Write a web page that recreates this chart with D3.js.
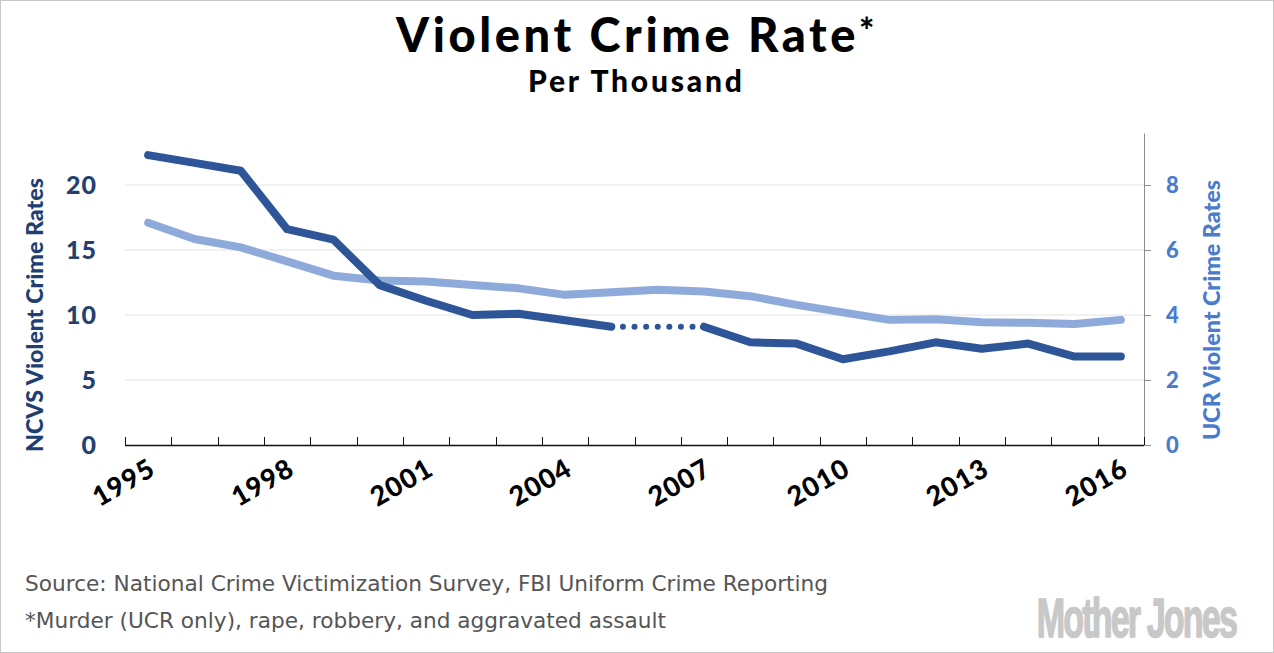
<!DOCTYPE html>
<html>
<head>
<meta charset="utf-8">
<script src="https://cdn.jsdelivr.net/npm/d3@7"></script>
<style>
  body { margin: 0; background: #fff; }
</style>
</head>
<body>
<div id="chart"></div>
<script>
var years = [1995, 1996, 1997, 1998, 1999, 2000, 2001, 2002, 2003, 2004, 2005,
             2006, 2007, 2008, 2009, 2010, 2011, 2012, 2013, 2014, 2015, 2016];
// NCVS, per thousand (no figure for 2006)
var ncvs = [22.3, 21.7, 21.1, 16.6, 15.8, 12.3, 11.1, 10.0, 10.1, 9.6, 9.1,
            null, 9.1, 7.9, 7.8, 6.6, 7.2, 7.9, 7.4, 7.8, 6.8, 6.8];
// UCR, per thousand
var ucr = [6.84, 6.34, 6.08, 5.65, 5.21, 5.06, 5.03, 4.92, 4.82, 4.62, 4.70,
           4.78, 4.72, 4.58, 4.31, 4.08, 3.85, 3.87, 3.78, 3.76, 3.72, 3.85];
var leftTicks = [0, 5, 10, 15, 20];
var rightTicks = [0, 2, 4, 6, 8];
var labelYears = [1995, 1998, 2001, 2004, 2007, 2010, 2013, 2016];

var W = 1274, H = 653;
var dark = "#2e5597", light = "#8eaadb";
var font = "Lato, 'Noto Sans', sans-serif";

var svg = d3.select("#chart").append("svg")
    .attr("width", W)
    .attr("height", H);

svg.append("rect")
    .attr("x", 0.5).attr("y", 0.5)
    .attr("width", W - 1).attr("height", H - 1)
    .attr("fill", "#fff")
    .attr("stroke", "#c8c8c8");

var x = d3.scaleBand().domain(years).range([125, 1144]);
var yL = d3.scaleLinear().domain([0, 24]).range([445, 133]);
var yR = d3.scaleLinear().domain([0, 9.6]).range([445, 133]);

// gridlines
svg.append("g").selectAll("line")
    .data(leftTicks.filter(function(d) { return d > 0; }))
    .enter().append("line")
    .attr("x1", 125).attr("x2", 1144)
    .attr("y1", function(d) { return yL(d); })
    .attr("y2", function(d) { return yL(d); })
    .attr("stroke", "#e2e2e2")
    .attr("stroke-width", 1);

// right axis
var rAxis = svg.append("g")
    .attr("transform", "translate(1144,0)")
    .call(d3.axisRight(yR).tickValues(rightTicks).tickSize(7).tickSizeOuter(0).tickFormat(""));
rAxis.select(".domain").attr("stroke", "#8c8c8c");
rAxis.selectAll(".tick line").attr("stroke", "#8c8c8c");

// bottom axis, ticks between categories pointing up
var edges = years.map(function(d) { return x(d); }).concat([x.range()[1]]);
var b = svg.append("g");
b.append("line")
    .attr("x1", 125).attr("x2", 1144)
    .attr("y1", 445.5).attr("y2", 445.5)
    .attr("stroke", "#111").attr("stroke-width", 1.5);
b.selectAll(".tk").data(edges).enter().append("line")
    .attr("x1", function(d) { return Math.round(d) + 0.5; })
    .attr("x2", function(d) { return Math.round(d) + 0.5; })
    .attr("y1", 437).attr("y2", 445)
    .attr("stroke", "#111");

// tick labels
svg.append("g").selectAll("text")
    .data(leftTicks).enter().append("text")
    .attr("x", 97)
    .attr("y", function(d) { return yL(d) + 9; })
    .attr("text-anchor", "end")
    .attr("font-family", font)
    .attr("font-weight", 900)
    .attr("font-size", 25)
    .attr("letter-spacing", 1)
    .attr("fill", "#23416f")
    .text(function(d) { return d; });

svg.append("g").selectAll("text")
    .data(rightTicks).enter().append("text")
    .attr("x", 1166)
    .attr("y", function(d) { return yR(d) + 8; })
    .attr("font-family", font)
    .attr("font-weight", 900)
    .attr("font-size", 22)
    .attr("fill", "#4a7bcc")
    .text(function(d) { return d; });

svg.append("g").selectAll("text")
    .data(labelYears).enter().append("text")
    .attr("transform", function(d) {
        return "translate(" + (x(d) + x.bandwidth() / 2 + 9) + ",474) rotate(-30)";
    })
    .attr("text-anchor", "end")
    .attr("font-family", font)
    .attr("font-weight", 900)
    .attr("font-size", 27)
    .attr("letter-spacing", 1)
    .attr("fill", "#000")
    .text(function(d) { return d; });

// axis titles
svg.append("text")
    .attr("transform", "translate(43,315) rotate(-90)")
    .attr("text-anchor", "middle")
    .attr("font-family", font)
    .attr("font-weight", 900)
    .attr("font-size", 22)
    .attr("textLength", 274)
    .attr("lengthAdjust", "spacingAndGlyphs")
    .attr("fill", "#1f3f73")
    .text("NCVS Violent Crime Rates");

svg.append("text")
    .attr("transform", "translate(1220,310) rotate(-90)")
    .attr("text-anchor", "middle")
    .attr("font-family", font)
    .attr("font-weight", 900)
    .attr("font-size", 22)
    .attr("textLength", 260)
    .attr("lengthAdjust", "spacingAndGlyphs")
    .attr("fill", "#4a7bcc")
    .text("UCR Violent Crime Rates");

// lines
var cx = function(i) { return x(years[i]) + x.bandwidth() / 2; };

var ucrLine = d3.line()
    .x(function(d, i) { return cx(i); })
    .y(function(d) { return yR(d); });
svg.append("path")
    .attr("d", ucrLine(ucr))
    .attr("fill", "none")
    .attr("stroke", light)
    .attr("stroke-width", 8)
    .attr("stroke-linecap", "round")
    .attr("stroke-linejoin", "round");

var ncvsLine = d3.line()
    .defined(function(d) { return d != null; })
    .x(function(d, i) { return cx(i); })
    .y(function(d) { return yL(d); });
svg.append("path")
    .attr("d", ncvsLine(ncvs))
    .attr("fill", "none")
    .attr("stroke", dark)
    .attr("stroke-width", 8)
    .attr("stroke-linecap", "round")
    .attr("stroke-linejoin", "round");

// dotted bridge over the missing year
ncvs.forEach(function(d, i) {
    if (d == null && i > 0 && i < ncvs.length - 1) {
        var x0 = cx(i - 1), x1 = cx(i + 1);
        svg.append("line")
            .attr("x1", x0).attr("y1", yL(ncvs[i - 1]))
            .attr("x2", x1).attr("y2", yL(ncvs[i + 1]))
            .attr("stroke", dark)
            .attr("stroke-width", 6)
            .attr("stroke-linecap", "round")
            .attr("stroke-dasharray", "0 11.6");
    }
});

// titles
var t = svg.append("text")
    .attr("x", 637).attr("y", 52)
    .attr("text-anchor", "middle")
    .attr("font-family", font)
    .attr("font-weight", 900)
    .attr("font-size", 47)
    .attr("letter-spacing", 3.6)
    .attr("fill", "#000");
t.append("tspan").text("Violent Crime Rate");
t.append("tspan").attr("font-size", 36).attr("dy", -8).text("*");

svg.append("text")
    .attr("x", 635).attr("y", 92)
    .attr("text-anchor", "middle")
    .attr("font-family", font)
    .attr("font-weight", 900)
    .attr("font-size", 30)
    .attr("textLength", 214)
    .attr("lengthAdjust", "spacing")
    .attr("fill", "#000")
    .text("Per Thousand");

// footer
svg.append("text")
    .attr("x", 25).attr("y", 591)
    .attr("font-family", "'DejaVu Sans', sans-serif")
    .attr("font-size", 21)
    .attr("textLength", 803)
    .attr("lengthAdjust", "spacingAndGlyphs")
    .attr("fill", "#555")
    .text("Source: National Crime Victimization Survey, FBI Uniform Crime Reporting");

svg.append("text")
    .attr("x", 25).attr("y", 628)
    .attr("font-family", "'DejaVu Sans', sans-serif")
    .attr("font-size", 21)
    .attr("textLength", 641)
    .attr("lengthAdjust", "spacingAndGlyphs")
    .attr("fill", "#555")
    .text("*Murder (UCR only), rape, robbery, and aggravated assault");

svg.append("text")
    .attr("transform", "translate(1236,637) scale(0.62,1)")
    .attr("text-anchor", "end")
    .attr("font-family", "'Liberation Sans', sans-serif")
    .attr("font-weight", 700)
    .attr("font-size", 55)
    .attr("letter-spacing", -3)
    .attr("fill", "#c8c8c8")
    .attr("stroke", "#c8c8c8")
    .attr("stroke-width", 1.5)
    .text("Mother Jones");
</script>
</body>
</html>
